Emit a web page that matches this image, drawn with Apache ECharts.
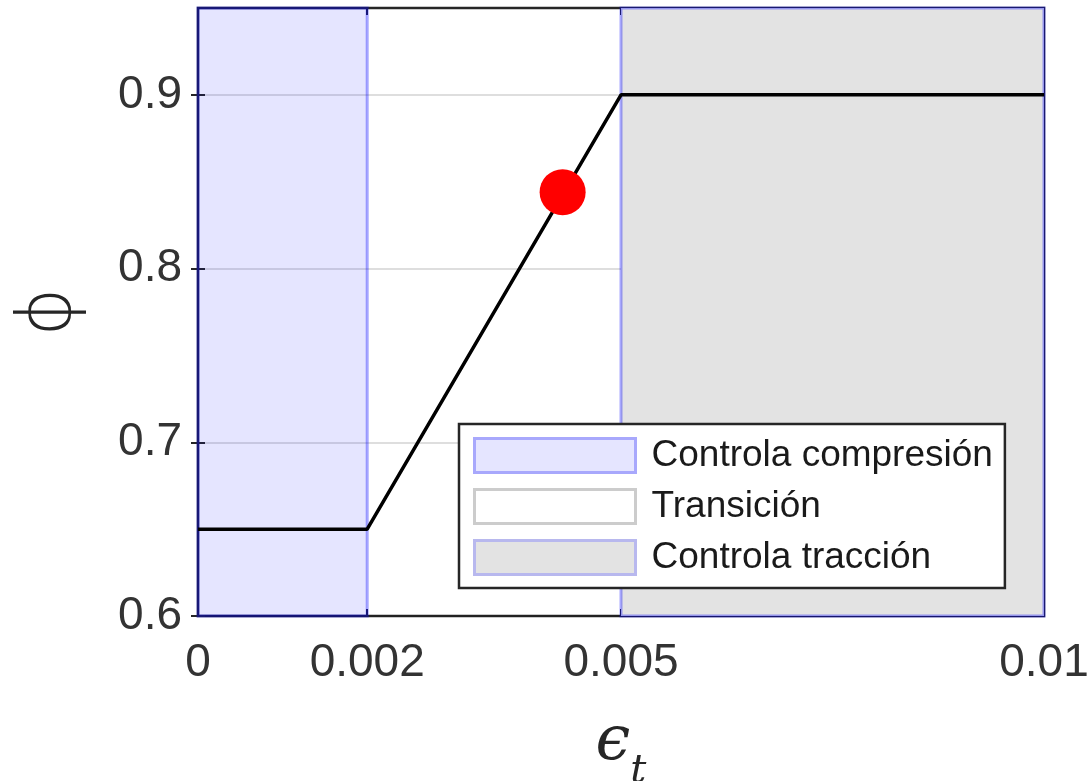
<!DOCTYPE html>
<html>
<head>
<meta charset="utf-8">
<script src="https://cdn.jsdelivr.net/npm/echarts@6/dist/echarts.min.js"></script>
<style>
  html, body { margin: 0; padding: 0; background: #fff; }
  #chart { width: 1088px; height: 781px; }
</style>
</head>
<body>
<div id="chart"></div>
<script>
// Strength reduction factor phi versus net tensile strain epsilon_t
const xTicks = [0, 0.002, 0.005, 0.01];
const yTicks = [0.6, 0.7, 0.8, 0.9];
const curveStrain = [0, 0.002, 0.005, 0.01];
const curvePhi = [0.65, 0.65, 0.9, 0.9];
const pointStrain = [0.00431];
const pointPhi = [0.844];
const zoneNames = ['Controla compresión', 'Transición', 'Controla tracción'];
const zoneStart = [0, 0.002, 0.005];
const zoneEnd = [0.002, 0.005, 0.01];

const zoneFill = ['rgba(0,0,255,0.1)', 'rgba(255,255,255,0)', '#e3e3e3'];
const zoneEdge = ['rgba(0,0,255,0.34)', 'rgba(0,0,0,0)', 'rgba(0,0,255,0.34)'];
const legendFill = ['#e5e5ff', '#ffffff', '#e3e3e3'];
const legendEdge = ['#a8a8fc', '#cccccc', '#b8b8ee'];

const font = '"Liberation Sans", Arial, sans-serif';

const zoneSeries = zoneNames.map((name, i) => ({
  name: name,
  type: 'line',
  data: [],
  z: -1,
  silent: true,
  markArea: {
    silent: true,
    itemStyle: { color: zoneFill[i], borderColor: zoneEdge[i], borderWidth: 3 },
    data: [[{ xAxis: zoneStart[i] }, { xAxis: zoneEnd[i] }]]
  }
}));

const chart = echarts.init(document.getElementById('chart'), null, { renderer: 'canvas' });

chart.setOption({
  animation: false,
  backgroundColor: '#ffffff',
  grid: {
    left: 198, right: 44, top: 8, bottom: 165,
    outerBoundsMode: 'none',
    containLabel: false,
    show: true, z: -2,
    backgroundColor: 'rgba(0,0,0,0)',
    borderColor: '#262626', borderWidth: 2.5
  },
  legend: {
    orient: 'vertical',
    left: 459, top: 424,
    padding: [13, 12, 12, 14],
    itemWidth: 161, itemHeight: 34, itemGap: 14,
    backgroundColor: '#ffffff',
    borderColor: '#262626', borderWidth: 2.5,
    textStyle: { fontFamily: font, fontSize: 37, color: '#1a1a1a', lineHeight: 34, padding: [0, 0, 0, 11] },
    selectedMode: false,
    data: zoneNames.map((name, i) => ({
      name: name,
      icon: 'rect',
      itemStyle: { color: legendFill[i], borderColor: legendEdge[i], borderWidth: 3 }
    }))
  },
  xAxis: [{
    type: 'value', min: 0, max: 0.01,
    name: '{e|ϵ}{s|t}',
    nameLocation: 'middle', nameGap: 78,
    nameTextStyle: {
      rich: {
        e: { fontFamily: '"DejaVu Serif", serif', fontStyle: 'italic', fontSize: 62, lineHeight: 70, verticalAlign: 'middle', color: '#262626' },
        s: { fontFamily: '"DejaVu Serif", serif', fontStyle: 'italic', fontSize: 40, lineHeight: 98, verticalAlign: 'bottom', color: '#262626' }
      }
    },
    axisLine: { show: false },
    axisTick: { show: true, inside: true, length: 7, customValues: xTicks, lineStyle: { color: '#262626', width: 2 } },
    axisLabel: { customValues: xTicks, margin: 24, fontFamily: font, fontSize: 46, color: '#333333',
                 formatter: v => String(v) },
    splitLine: { show: false }
  }, {
    type: 'value', min: 0, max: 0.01, position: 'top',
    axisLine: { show: false },
    axisTick: { show: true, inside: true, length: 7, customValues: xTicks, lineStyle: { color: '#262626', width: 2 } },
    axisLabel: { show: false },
    splitLine: { show: false }
  }],
  yAxis: [{
    type: 'value', min: 0.6, max: 0.95,
    name: 'ϕ',
    nameLocation: 'middle', nameGap: 110, nameRotate: 90,
    nameTextStyle: { fontFamily: '"DejaVu Sans", sans-serif', fontWeight: 200, fontSize: 74, color: '#262626' },
    axisLine: { show: false },
    axisTick: { show: true, inside: true, length: 7, customValues: yTicks, lineStyle: { color: '#262626', width: 2 } },
    axisLabel: { customValues: yTicks, margin: 16, fontFamily: font, fontSize: 46, color: '#333333',
                 formatter: v => v.toFixed(1) },
    splitLine: { show: true, lineStyle: { color: 'rgba(0,0,0,0.13)', width: 2 } }
  }, {
    type: 'value', min: 0.6, max: 0.95, position: 'right',
    axisLine: { show: false },
    axisTick: { show: true, inside: true, length: 7, customValues: yTicks, lineStyle: { color: '#262626', width: 2 } },
    axisLabel: { show: false },
    splitLine: { show: false }
  }],
  series: zoneSeries.concat([
    {
      name: 'phi',
      type: 'line',
      z: 3,
      silent: true,
      showSymbol: false,
      lineStyle: { color: '#000000', width: 3.5 },
      data: curveStrain.map((x, i) => [x, curvePhi[i]])
    },
    {
      name: 'punto',
      type: 'scatter',
      z: 4,
      silent: true,
      symbolSize: 46,
      itemStyle: { color: '#ff0000', opacity: 1 },
      data: pointStrain.map((x, i) => [x, pointPhi[i]])
    }
  ])
});
</script>
</body>
</html>
